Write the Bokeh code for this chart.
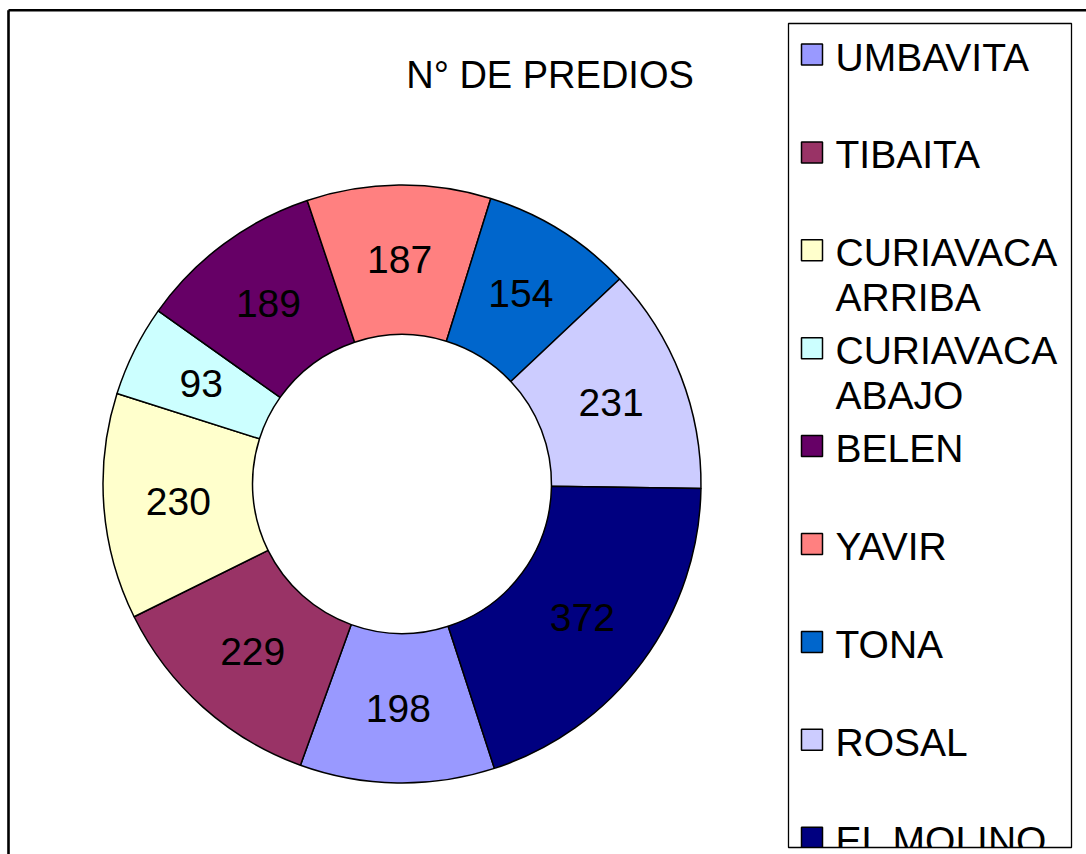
import numpy as np
from bokeh.plotting import figure
from bokeh.models import Range1d, ColumnDataSource
from bokeh.core.properties import value
from bokeh.embed import file_html
from bokeh.resources import INLINE

# ---------------- data ----------------
categories = ["UMBAVITA", "TIBAITA", "CURIAVACA ARRIBA", "CURIAVACA ABAJO",
              "BELEN", "YAVIR", "TONA", "ROSAL", "EL MOLINO"]
legend_lines = [["UMBAVITA"], ["TIBAITA"], ["CURIAVACA", "ARRIBA"],
                ["CURIAVACA", "ABAJO"], ["BELEN"], ["YAVIR"], ["TONA"],
                ["ROSAL"], ["EL MOLINO"]]
predios = [198, 229, 230, 93, 189, 187, 154, 231, 372]
colors = ["#9999FF", "#993366", "#FFFFCC", "#CCFFFF", "#660066",
          "#FF8080", "#0066CC", "#CCCCFF", "#000080"]
title_text = "N° DE PREDIOS"

# ---------------- layout ----------------
W, H = 1086, 854
FONT = value("Liberation Sans")


def py(y):  # screen y (from top) -> data y
    return H - y


def px(x):
    return x


cx, cy = px(401.5), py(483.5)
r_out, r_in = 299.0, 149.5
first_angle = np.deg2rad(-72.0)

vals = np.array(predios, dtype=float)
frac = vals / vals.sum()
cum = np.concatenate([[0.0], np.cumsum(frac)])
starts = first_angle - cum[:-1] * 2 * np.pi
ends = first_angle - cum[1:] * 2 * np.pi
mids = (starts + ends) / 2
r_mid = (r_out + r_in) / 2

src = ColumnDataSource(dict(
    cat=categories, val=predios, color=colors,
    start=starts, end=ends,
    lx=cx + r_mid * np.cos(mids), ly=cy + r_mid * np.sin(mids),
    label=[str(v) for v in predios],
))

p = figure(width=W, height=H, output_backend="svg", toolbar_location=None,
           x_range=Range1d(0, W), y_range=Range1d(0, H),
           x_axis_location=None, y_axis_location=None, min_border=0,
           outline_line_color=None, background_fill_color="white",
           border_fill_color="white")
p.grid.visible = False

# outer chart frame (left and top visible)
p.segment(x0=[px(8), px(8)], y0=[0, py(9.7)], x1=[px(8), W], y1=[py(9.7), py(9.7)],
          line_color="black", line_width=2.6)

# title
p.text(x=[px(549.5)], y=[py(74.5)], text=[title_text], text_font=FONT,
       text_font_size=value("38px"), text_align="center", text_baseline="middle",
       text_color="black")

# donut
p.annular_wedge(x=cx, y=cy, inner_radius=r_in, outer_radius=r_out,
                start_angle="start", end_angle="end", direction="clock",
                fill_color="color", line_color="black", line_width=1.5,
                source=src)
p.text(x="lx", y="ly", text="label", source=src, text_font=FONT,
       text_font_size=value("39px"), text_align="center", text_baseline="middle",
       text_color="black")

# legend box
lb_l, lb_r, lb_t, lb_b = px(788), px(1071), py(23), py(847)
p.quad(left=[lb_l], right=[lb_r], top=[lb_t], bottom=[lb_b],
       fill_color="white", line_color=None)

step = 97.9
mk_x, mk_y, mk_c = [], [], []
tx, ty, tt = [], [], []
for i, lines in enumerate(legend_lines):
    center = 56.5 + i * step
    mk_x.append(px(811.5))
    mk_y.append(py(center - 2.5))
    mk_c.append(colors[i])
    for j, ln in enumerate(lines):
        tx.append(px(835))
        ty.append(py(center + j * 44.5))
        tt.append(ln)

p.rect(x=mk_x, y=mk_y, width=21, height=21, fill_color=mk_c,
       line_color="black", line_width=1.5)
p.text(x=tx, y=ty, text=tt, text_font=FONT, text_font_size=value("39px"),
       text_align="left", text_baseline="middle", text_color="black")

# clip legend content below the legend box
p.quad(left=[lb_l - 1], right=[lb_r + 1], top=[lb_b], bottom=[-2],
       fill_color="white", line_color=None)
p.quad(left=[lb_l], right=[lb_r], top=[lb_t], bottom=[lb_b],
       fill_color=None, line_color="black", line_width=1.3)

open("out.html", "w").write(file_html(p, INLINE))
